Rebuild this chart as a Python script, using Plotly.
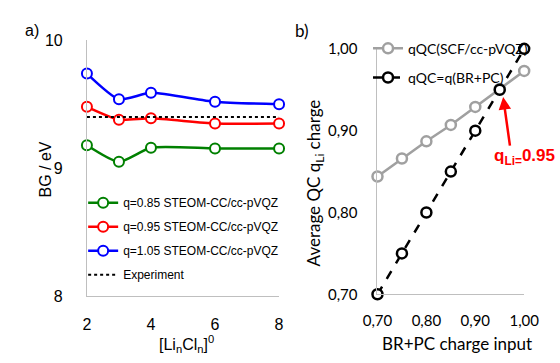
import plotly.graph_objects as go

# ---- data panel a) ----
cluster_n = [2, 3, 4, 6, 8]
bg_q085 = [9.18, 9.05, 9.16, 9.155, 9.155]
bg_q095 = [9.48, 9.38, 9.39, 9.35, 9.35]
bg_q105 = [9.74, 9.54, 9.59, 9.52, 9.50]
exp_x = [2, 8]
exp_bg = [9.40, 9.40]
left_yticks = [8, 9, 10]
left_xticks = [2, 4, 6, 8]

# ---- data panel b) ----
br_input = [0.70, 0.75, 0.80, 0.85, 0.90, 0.95, 1.00]
qqc_scf = [0.844, 0.866, 0.887, 0.907, 0.929, 0.951, 0.973]
qqc_brpc = [0.70, 0.75, 0.80, 0.85, 0.90, 0.95, 1.00]
right_ticks = [0.70, 0.80, 0.90, 1.00]
right_ticktext = ["0,70", "0,80", "0,90", "1,00"]

W, H = 560, 363
def px(x):
    return x / W
def py(y):
    return (H - y) / H

LF = "Liberation Sans, Arial, sans-serif"
RF = "Lato, Carlito, sans-serif"

fig = go.Figure()

series = [
    ("q=0.85 STEOM-CC/cc-pVQZ", bg_q085, "#008000"),
    ("q=0.95 STEOM-CC/cc-pVQZ", bg_q095, "#FF0000"),
    ("q=1.05 STEOM-CC/cc-pVQZ", bg_q105, "#0000FF"),
]
for i, (name, ys, c) in enumerate(series):
    fig.add_trace(go.Scatter(
        x=cluster_n, y=ys, name=name, mode="lines+markers",
        line=dict(color=c, width=2.5, shape="spline", smoothing=0.6),
        marker=dict(symbol="circle", size=10, color="white", line=dict(color=c, width=2)),
        xaxis="x", yaxis="y", cliponaxis=False, legend="legend", legendgroup=f"g{i}"))
fig.add_trace(go.Scatter(
    x=exp_x, y=exp_bg, name="Experiment", mode="lines",
    line=dict(color="black", width=2, dash="dot"),
    xaxis="x", yaxis="y", cliponaxis=False, legend="legend", legendgroup="g3"))

fig.add_trace(go.Scatter(
    x=br_input, y=qqc_scf, name="qQC(SCF/cc-pVQZ)", mode="lines+markers",
    line=dict(color="#A0A0A0", width=2.5),
    marker=dict(symbol="circle", size=10, color="white", line=dict(color="#A0A0A0", width=2.5)),
    xaxis="x2", yaxis="y2", cliponaxis=False, legend="legend2", legendgroup="h0"))
fig.add_trace(go.Scatter(
    x=br_input, y=qqc_brpc, name="qQC=q(BR+PC)", mode="lines+markers",
    line=dict(color="black", width=2.5, dash="dash"),
    marker=dict(symbol="circle", size=10, color="white", line=dict(color="black", width=2.5)),
    xaxis="x2", yaxis="y2", cliponaxis=False, legend="legend2", legendgroup="h1"))

axline = "#BFBFBF"
fig.update_layout(
    width=W, height=H, margin=dict(l=0, r=0, t=0, b=0),
    paper_bgcolor="white", plot_bgcolor="white", showlegend=True,
    xaxis=dict(domain=[px(76), px(279)], range=[2, 8], tickvals=left_xticks,
               showgrid=False, zeroline=False, showline=True, linecolor=axline, linewidth=1,
               ticks="", ticklabelstandoff=14, tickfont=dict(family=LF, size=16, color="black"),
               anchor="y"),
    yaxis=dict(domain=[py(302), py(32)], range=[8, 10], tickvals=left_yticks,
               showgrid=False, zeroline=False, showline=True, linecolor=axline, linewidth=1,
               ticks="", ticklabelstandoff=20, tickfont=dict(family=LF, size=16, color="black"),
               anchor="x"),
    xaxis2=dict(domain=[px(383), px(538)], range=[0.70, 1.00], tickvals=right_ticks,
                ticktext=right_ticktext,
                showgrid=False, zeroline=False, showline=True, linecolor=axline, linewidth=1,
                ticks="", ticklabelstandoff=13, tickfont=dict(family=RF, size=15, color="black"),
                anchor="y2"),
    yaxis2=dict(domain=[py(300), py(41)], range=[0.70, 1.00], tickvals=right_ticks,
                ticktext=right_ticktext,
                showgrid=False, zeroline=False, showline=True, linecolor=axline, linewidth=1,
                ticks="", ticklabelstandoff=16, tickfont=dict(family=RF, size=15, color="black"),
                anchor="x2"),
    legend=dict(x=px(72), y=py(188), xanchor="left", yanchor="top",
                font=dict(family=LF, size=12, color="black"), bgcolor="rgba(0,0,0,0)",
                traceorder="grouped", tracegroupgap=5, itemwidth=30),
    legend2=dict(x=px(373), y=py(24), xanchor="left", yanchor="top",
                 font=dict(family=RF, size=14, color="black"), bgcolor="rgba(0,0,0,0)",
                 traceorder="grouped", tracegroupgap=8, itemwidth=30),
)

ann = [
    dict(x=px(18), y=py(22), text="a)", font=dict(family=LF, size=16)),
    dict(x=px(303), y=py(22), text="b)", font=dict(family=RF, size=17)),
    dict(x=px(32), y=py(168), text="BG / eV", textangle=-90, font=dict(family=LF, size=16)),
    dict(x=px(181), y=py(352), text="[Li<sub>n</sub>Cl<sub>n</sub>]<sup>0</sup>", font=dict(family=LF, size=16)),
    dict(x=px(318), y=py(182), text="Average QC q<sub>Li</sub> charge", textangle=-90, font=dict(family=RF, size=17)),
    dict(x=px(467), y=py(352), text="BR+PC charge input", font=dict(family=RF, size=17)),
    dict(x=px(538), y=py(155), text="<b>q<sub>Li=</sub>0.95</b>", font=dict(family="Liberation Sans, Arial", size=17, color="#FF0000")),
]
for a in ann:
    a.update(xref="paper", yref="paper", showarrow=False, xanchor="center", yanchor="middle")
    a.setdefault("font", {}).setdefault("color", "black")
    fig.add_annotation(**a)

fig.add_annotation(x=0.957, y=0.941, xref="x2", yref="y2", text="", showarrow=True,
                   ax=7, ay=50, axref="pixel", ayref="pixel",
                   arrowhead=2, arrowsize=1, arrowwidth=2.5, arrowcolor="#FF0000")

fig.write_html("out.html")
